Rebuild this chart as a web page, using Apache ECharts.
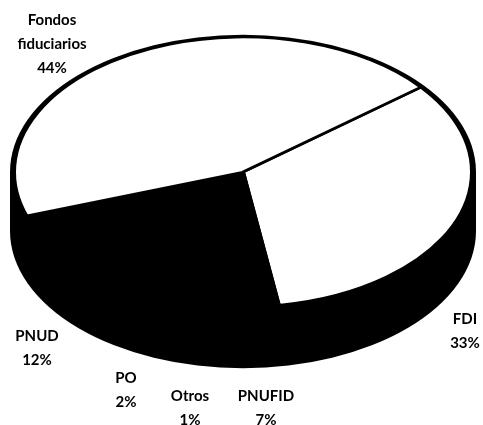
<!DOCTYPE html>
<html>
<head>
<meta charset="utf-8">
<style>
  html, body { margin: 0; padding: 0; background: #fff; }
  #main { width: 483px; height: 425px; overflow: hidden; }
</style>
<script src="https://cdn.jsdelivr.net/npm/echarts@6/dist/echarts.min.js"></script>
</head>
<body>
<div id="main"></div>
<script>
// slices, clockwise from the line at the upper right
var categories = ['FDI', 'PNUFID', 'Otros', 'PO', 'PNUD', 'Fondos\nfiduciarios'];
var shares = [33, 7, 1, 2, 12, 44];
var topColors = ['#fff', '#000', '#000', '#000', '#000', '#fff'];

// pie drawn as a flattened disc on a black drum
var cx = 243, cy = 172, rx = 231, ry = 136, depth = 59;
var flat = ry / rx;
var startDeg = -39;
var labelAnchors = [[465, 331], [266, 408], [190, 408], [126, 390], [37, 348], [52, 44]];

var total = shares.reduce(function (a, b) { return a + b; }, 0);
var rad = Math.PI / 180;
var edges = [startDeg];
shares.forEach(function (v, i) {
    edges.push(edges[i] + v / total * 360);
});

var myChart = echarts.init(document.getElementById('main'));

function disc(y) {
    return {
        type: 'circle',
        x: cx, y: y, scaleY: flat,
        shape: { cx: 0, cy: 0, r: rx + 2 },
        style: { fill: '#000' }
    };
}

function renderSlice(params, api) {
    var i = params.dataIndex;
    var share = api.value(0);
    var anchor = labelAnchors[i];
    return {
        type: 'group',
        children: [{
            type: 'sector',
            x: cx, y: cy, scaleY: flat,
            shape: {
                cx: 0, cy: 0, r0: 0, r: rx - 2,
                startAngle: edges[i] * rad,
                endAngle: edges[i + 1] * rad,
                clockwise: true
            },
            style: { fill: topColors[i], stroke: '#000', lineWidth: 4, strokeNoScale: true }
        }, {
            type: 'text',
            x: anchor[0], y: anchor[1], z2: 10,
            style: {
                text: categories[i] + '\n' + share + '%',
                fill: '#000',
                font: 'bold 15px Lato',
                lineHeight: 24,
                align: 'center',
                verticalAlign: 'middle'
            }
        }]
    };
}

myChart.setOption({
    animation: false,
    graphic: {
        elements: [
            disc(cy + depth),
            {
                type: 'rect',
                shape: { x: cx - rx - 2, y: cy, width: 2 * rx + 4, height: depth },
                style: { fill: '#000' }
            },
            disc(cy)
        ]
    },
    series: [{
        type: 'custom',
        coordinateSystem: 'none',
        renderItem: renderSlice,
        silent: true,
        data: shares.map(function (v) { return [v]; })
    }]
});
</script>
</body>
</html>
